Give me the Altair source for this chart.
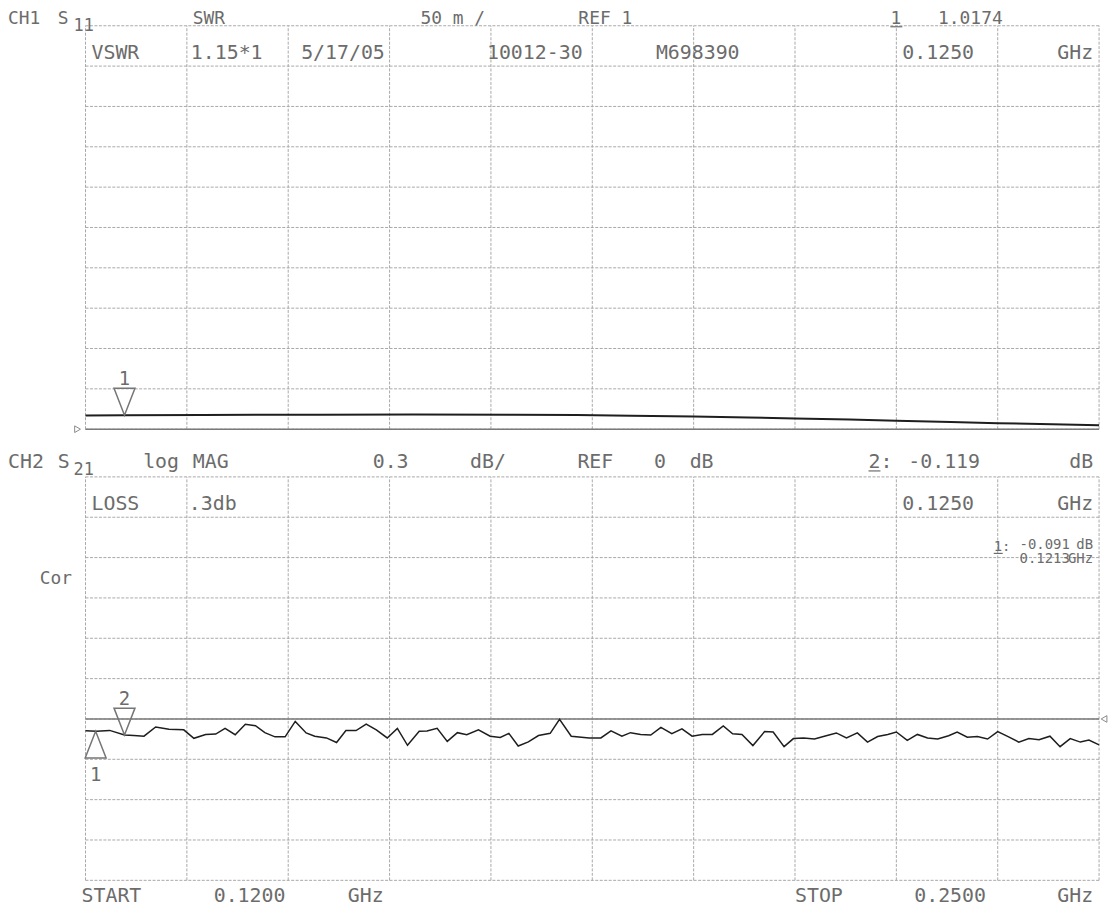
import altair as alt
import pandas as pd

# ---------------- data ----------------
x_grid = [0.12, 0.133, 0.146, 0.159, 0.172, 0.185, 0.198, 0.211, 0.224, 0.237, 0.25]
swr_grid = [1.0, 1.05, 1.1, 1.15, 1.2, 1.25, 1.3, 1.35, 1.4, 1.45, 1.5]
db_grid = [-1.2, -0.9, -0.6, -0.3, 0.0, 0.3, 0.6, 0.9, 1.2, 1.5, 1.8]

swr_freq = [0.1200, 0.1250, 0.1350, 0.1500, 0.1620, 0.1750, 0.1830, 0.1900, 0.1980,
            0.2050, 0.2110, 0.2180, 0.2240, 0.2310, 0.2370, 0.2440, 0.2500]
swr_val = [1.0170, 1.0174, 1.0177, 1.0180, 1.0181, 1.0180, 1.0176, 1.0168, 1.0158,
           1.0146, 1.0133, 1.0119, 1.0104, 1.0089, 1.0075, 1.0061, 1.0050]

s21_freq = [0.1200, 0.1214, 0.1231, 0.1250, 0.1262, 0.1275, 0.1290, 0.1307, 0.1326, 0.1339,
            0.1354, 0.1367, 0.1379, 0.1392, 0.1405, 0.1418, 0.1430, 0.1443, 0.1456, 0.1469,
            0.1483, 0.1494, 0.1509, 0.1522, 0.1534, 0.1547, 0.1560, 0.1573, 0.1587, 0.1600,
            0.1613, 0.1628, 0.1638, 0.1651, 0.1664, 0.1677, 0.1689, 0.1704, 0.1719, 0.1732,
            0.1743, 0.1755, 0.1768, 0.1781, 0.1796, 0.1808, 0.1823,
            0.1846, 0.1861, 0.1874, 0.1888, 0.1899, 0.1912, 0.1925, 0.1938, 0.1952, 0.1965,
            0.1978, 0.1991, 0.2004, 0.2018, 0.2030, 0.2042, 0.2056, 0.2071, 0.2082, 0.2096,
            0.2108, 0.2121, 0.2135, 0.2150, 0.2163, 0.2176, 0.2190, 0.2203, 0.2216, 0.2229,
            0.2240, 0.2254, 0.2267, 0.2280, 0.2293, 0.2307, 0.2318, 0.2331, 0.2344, 0.2357,
            0.2370, 0.2384, 0.2397, 0.2410, 0.2423, 0.2437, 0.2450, 0.2463, 0.2476, 0.2487,
            0.2500]
s21_db = [-0.088, -0.091, -0.085, -0.119, -0.123, -0.128, -0.060, -0.076, -0.081, -0.144,
          -0.115, -0.112, -0.070, -0.117, -0.039, -0.050, -0.102, -0.133, -0.133, -0.018,
          -0.104, -0.128, -0.141, -0.175, -0.086, -0.086, -0.039, -0.081, -0.141, -0.070,
          -0.196, -0.091, -0.089, -0.070, -0.167, -0.102, -0.117, -0.081, -0.128, -0.138,
          -0.107, -0.201, -0.170, -0.123, -0.107, -0.003, -0.128,
          -0.141, -0.141, -0.089, -0.128, -0.102, -0.115, -0.120, -0.063, -0.110, -0.073,
          -0.128, -0.115, -0.115, -0.052, -0.110, -0.115, -0.198, -0.094, -0.097, -0.206,
          -0.146, -0.141, -0.149, -0.125, -0.104, -0.141, -0.104, -0.172, -0.131, -0.115,
          -0.097, -0.159, -0.115, -0.141, -0.149, -0.125, -0.097, -0.136, -0.131, -0.149,
          -0.094, -0.133, -0.172, -0.146, -0.154, -0.128, -0.206, -0.146, -0.172, -0.157,
          -0.193]

marker_swr = {"f": [0.125], "v": [1.0174]}
marker_s21_1 = {"f": [0.1213], "v": [-0.091]}
marker_s21_2 = {"f": [0.125], "v": [-0.119]}

# ---------------- styling ----------------
FONT = "DejaVu Sans Mono"
TXT = "#6c6c6c"
GRID = "#a8a8a8"
FS = 20

xs = alt.Scale(domain=[0.12, 0.25], nice=False, zero=False)
ys_top = alt.Scale(domain=[1.0, 1.5], range=[406, 0], nice=False, zero=False)
ys_bot = alt.Scale(domain=[-1.2, 1.8], range=[860, 454], nice=False, zero=False)

DOWN_TRI = "M-0.39,-1L0.39,-1L0,0Z"
UP_TRI = "M-0.39,1L0.39,1L0,0Z"


def panel(grid_vals, scale, lo, hi, ref_val, trace_f, trace_v, trace_w):
    hgrid = alt.Chart(pd.DataFrame({"v": grid_vals})).mark_rule(
        color=GRID, strokeWidth=1, strokeDash=[3, 1.5]
    ).encode(y=alt.Y("v:Q", scale=scale, axis=None))
    vgrid = alt.Chart(pd.DataFrame({"f": x_grid, "y0": [lo] * len(x_grid), "y1": [hi] * len(x_grid)})).mark_rule(
        color=GRID, strokeWidth=1, strokeDash=[3, 1.5]
    ).encode(
        x=alt.X("f:Q", scale=xs, axis=None),
        y=alt.Y("y0:Q", scale=scale, axis=None),
        y2="y1:Q",
    )
    ref = alt.Chart(pd.DataFrame({"v": [ref_val]})).mark_rule(
        color="#7a7a7a", strokeWidth=1.6
    ).encode(y=alt.Y("v:Q", scale=scale, axis=None))
    trace = alt.Chart(pd.DataFrame({"f": trace_f, "v": trace_v})).mark_line(
        color="#1e1e1e", strokeWidth=trace_w
    ).encode(
        x=alt.X("f:Q", scale=xs, axis=None),
        y=alt.Y("v:Q", scale=scale, axis=None),
        order="f:Q",
    )
    return [hgrid, vgrid, ref, trace]


def marker(data, scale, shape, label, label_dy):
    df = pd.DataFrame({"f": data["f"], "v": data["v"], "t": [label]})
    tri = alt.Chart(df).mark_point(
        shape=shape, size=2916, filled=False, color="#757575", strokeWidth=1.5, opacity=1
    ).encode(
        x=alt.X("f:Q", scale=xs, axis=None),
        y=alt.Y("v:Q", scale=scale, axis=None),
    )
    lab = alt.Chart(df).mark_text(
        font=FONT, fontSize=19, color=TXT, dy=label_dy, align="center", baseline="alphabetic"
    ).encode(
        x=alt.X("f:Q", scale=xs, axis=None),
        y=alt.Y("v:Q", scale=scale, axis=None),
        text="t:N",
    )
    return [tri, lab]


def refmark(f, v, scale, shape, xoff):
    return alt.Chart(pd.DataFrame({"f": [f], "v": [v]})).mark_point(
        shape=shape, size=45, filled=False, color="#8a8a8a", strokeWidth=1, xOffset=xoff, opacity=1
    ).encode(
        x=alt.X("f:Q", scale=xs, axis=None),
        y=alt.Y("v:Q", scale=scale, axis=None),
    )


top_layers = panel(swr_grid, ys_top, 1.0, 1.5, 1.0, swr_freq, swr_val, 2.0)
top_layers += marker(marker_swr, ys_top, DOWN_TRI, "1", -30)
top_layers.append(refmark(0.12, 1.0, ys_top, "triangle-right", -8))
top = alt.layer(*top_layers)

bot_layers = panel(db_grid, ys_bot, -1.2, 1.8, 0.0, s21_freq, s21_db, 1.5)
bot_layers += marker(marker_s21_2, ys_bot, DOWN_TRI, "2", -30)
bot_layers += marker(marker_s21_1, ys_bot, UP_TRI, "1", 50)
bot_layers.append(refmark(0.25, 0.0, ys_bot, "triangle-left", 5))
bot = alt.layer(*bot_layers)


def txt(s, x, y, size=FS, align="left"):
    return alt.Chart(pd.DataFrame({"t": [s]})).mark_text(
        font=FONT, fontSize=size, color=TXT, align=align, baseline="alphabetic"
    ).encode(x=alt.value(x), y=alt.value(y), text="t:N")


def underline(x0, x1, y):
    return alt.Chart(pd.DataFrame({"u": [0]})).mark_rule(color=TXT, strokeWidth=1.2).encode(
        x=alt.value(x0), x2=alt.value(x1), y=alt.value(y)
    )


HY = -2      # header baseline, channel 1
R1 = 33      # first graticule row baseline, channel 1
HY2 = 445    # header baseline, channel 2
R2 = 487     # first graticule row baseline, channel 2

texts = [
    # channel 1 header
    txt("CH1", -78, HY, 18), txt("S", -28, HY, 18), txt("11", -12, HY + 7, 17),
    txt("SWR", 108, HY, 18), txt("50 m /", 337, HY, 18), txt("REF 1", 496, HY, 18),
    txt("1", 810, HY, 18), underline(810, 822, HY + 3), txt("1.0174", 858, HY, 18),
    txt("VSWR", 6, R1), txt("1.15*1", 106, R1), txt("5/17/05", 217, R1),
    txt("10012-30", 404, R1), txt("M698390", 574, R1), txt("0.1250", 822, R1),
    txt("GHz", 1014, R1, align="right"),
    # channel 2 header
    txt("CH2", -78, HY2), txt("S", -28, HY2), txt("21", -12, HY2 + 7, 17), txt("log", 58, HY2),
    txt("MAG", 108, HY2), txt("0.3", 289, HY2), txt("dB/", 387, HY2), txt("REF", 495, HY2),
    txt("0", 572, HY2), txt("dB", 608, HY2), txt("2:", 788, HY2), underline(788, 800, HY2 + 3),
    txt("-0.119", 828, HY2), txt("dB", 1014, HY2, align="right"),
    txt("LOSS", 6, R2), txt(".3db", 104, R2), txt("0.1250", 822, R2),
    txt("GHz", 1014, R2, align="right"),
    # marker 1 readout (small, stacked)
    txt("1:", 914, 529, 14), underline(914, 923, 531), txt("-0.091", 940, 527, 14),
    txt("dB", 1014, 527, 14, align="right"),
    txt("0.1213", 940, 541, 14), txt("GHz", 1014, 541, 14, align="right"),
    txt("Cor", -46, 562, 18),
    # footer
    txt("START", -4, 882), txt("0.1200", 129, 882), txt("GHz", 264, 882),
    txt("STOP", 714, 882), txt("0.2500", 834, 882), txt("GHz", 1014, 882, align="right"),
]

chart = alt.layer(top, bot, *texts).resolve_scale(y="independent").properties(
    width=1020,
    height=860,
    padding={"left": 78, "top": 15, "right": 10, "bottom": 30},
    autosize=alt.AutoSizeParams(type="none"),
    background="white",
).configure_view(stroke=None)

chart.save("out.html", embed_options={"renderer": "svg", "actions": False})
